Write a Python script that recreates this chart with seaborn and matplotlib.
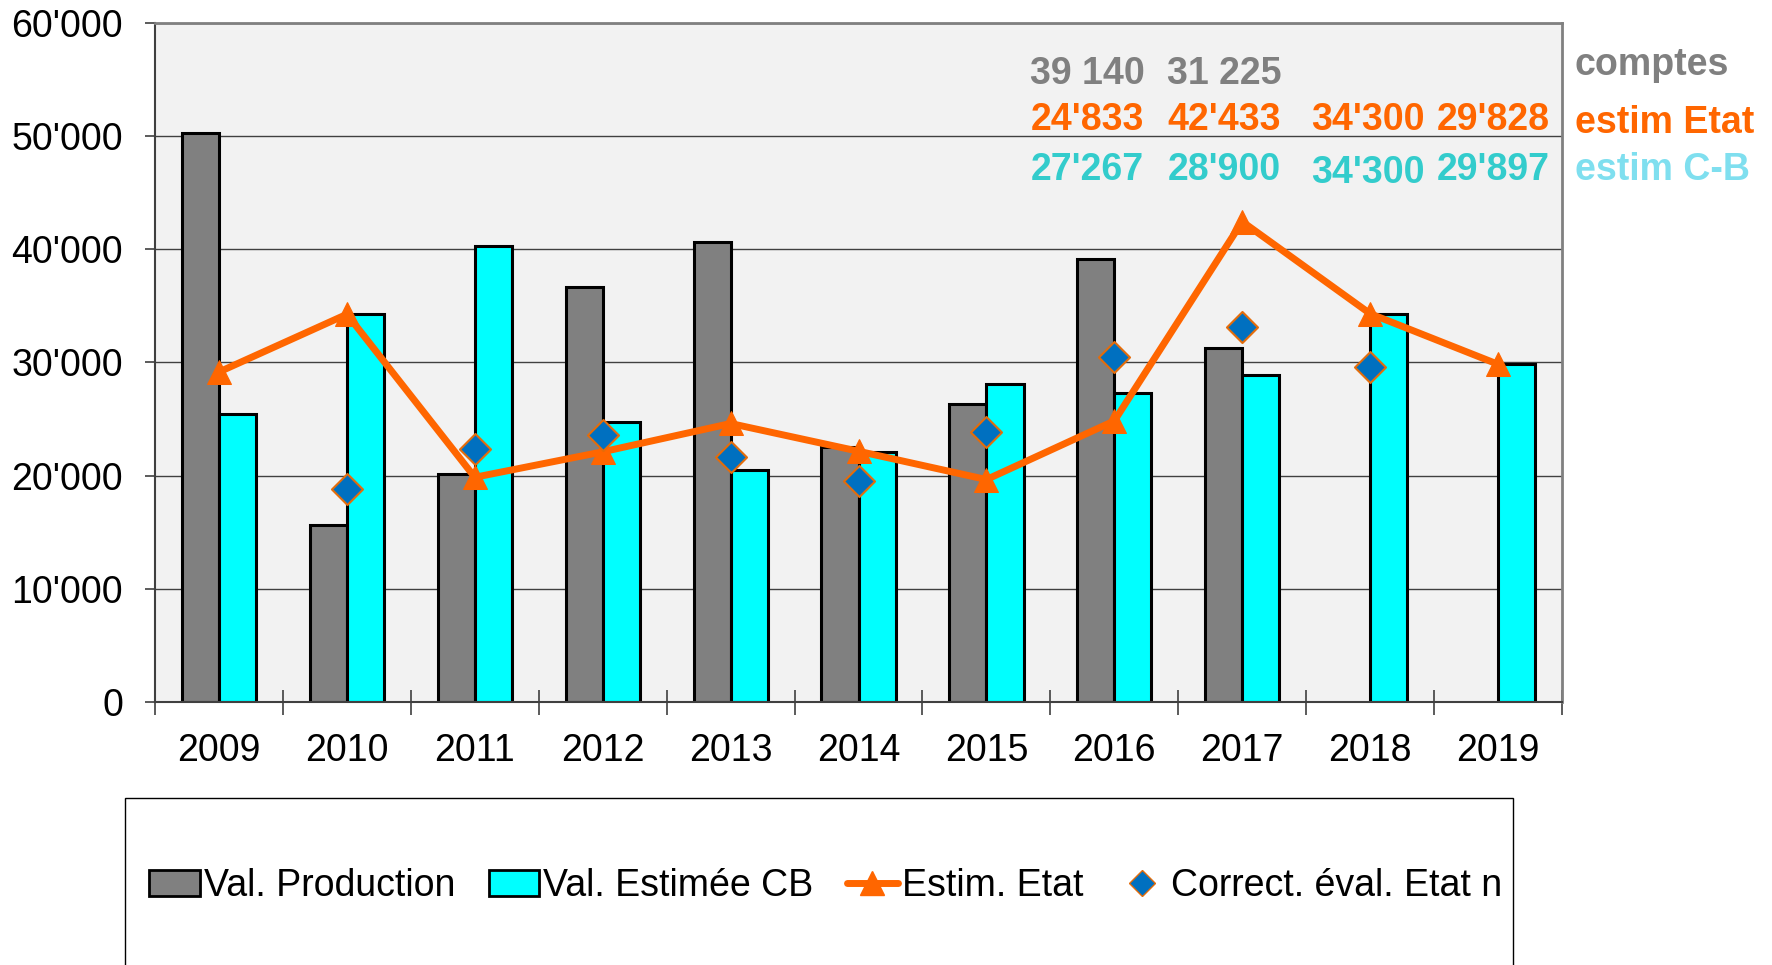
import numpy as np
import pandas as pd
import matplotlib
matplotlib.use('Agg')
import matplotlib.pyplot as plt
import seaborn as sns
from matplotlib.ticker import FuncFormatter
from matplotlib.patches import Rectangle, Patch
from matplotlib.lines import Line2D

years = ['2009', '2010', '2011', '2012', '2013', '2014', '2015', '2016', '2017', '2018', '2019']
val_production = [50300, 15600, 20150, 36650, 40600, 22500, 26300, 39140, 31225, np.nan, np.nan]
val_estimee_cb = [25450, 34250, 40300, 24750, 20450, 22050, 28050, 27267, 28900, 34300, 29897]
estim_etat = [29150, 34250, 19850, 22100, 24600, 22150, 19650, 24833, 42433, 34300, 29828]
correct_eval = [np.nan, 18850, 22350, 23550, 21650, 19500, 23850, 30450, 33150, 29550, np.nan]

# annotations written above the bars (year -> text)
lbl_comptes = {'2016': '39 140', '2017': '31 225'}
lbl_etat = {'2016': "24'833", '2017': "42'433", '2018': "34'300", '2019': "29'828"}
lbl_cb = {'2016': "27'267", '2017': "28'900", '2018': "34'300", '2019': "29'897"}
# the labels are not quite centred on the years in the original
lbl_shift = {'2016': -0.21, '2017': -0.14, '2018': -0.02, '2019': -0.04}

GREY = '#808080'
CYAN = '#00FFFF'
ORANGE = '#FF6600'
BLUE = '#0070C0'

sns.set_style('white')
plt.rcParams['font.family'] = ['Liberation Sans', 'DejaVu Sans']
plt.rcParams['text.color'] = 'black'
plt.rcParams['xtick.labelcolor'] = 'black'
plt.rcParams['ytick.labelcolor'] = 'black'

df = pd.DataFrame({
    'year': years * 2,
    'value': val_production + val_estimee_cb,
    'serie': ['Val. Production'] * len(years) + ['Val. Estimée CB'] * len(years),
})

fig = plt.figure(figsize=(17.72, 9.65), dpi=100)
ax = fig.add_axes([0.0875, 0.2725, 0.794, 0.704])
ax.set_facecolor('#F2F2F2')

sns.barplot(data=df, x='year', y='value', hue='serie', order=years,
            hue_order=['Val. Production', 'Val. Estimée CB'],
            palette=[GREY, CYAN], width=0.58, edgecolor='black', linewidth=2.2,
            saturation=1, errorbar=None, legend=False, ax=ax, zorder=2)

xpos = np.arange(len(years))
sns.lineplot(x=xpos, y=estim_etat, color=ORANGE, linewidth=5, marker='^',
             markersize=17, markeredgecolor=ORANGE, ax=ax, zorder=4)
sns.scatterplot(x=xpos, y=correct_eval, marker='D', s=250, color=BLUE,
                edgecolor='#E46C0A', linewidth=1.5, ax=ax, zorder=5)

ax.set_xlim(-0.5, len(years) - 0.5)
ax.set_ylim(0, 60000)
ax.set_yticks(np.arange(0, 60001, 10000))
ax.yaxis.set_major_formatter(FuncFormatter(lambda v, p: f"{int(v):,}".replace(',', "'")))
ax.yaxis.grid(True, color='#404040', linewidth=1)
ax.set_axisbelow(True)
ax.set_xlabel('')
ax.set_ylabel('')

ax.set_xticks(np.arange(-0.5, len(years), 1), minor=True)
ax.tick_params(axis='x', which='major', bottom=False, length=0, pad=22, labelsize=27,
               labelcolor='black')
ax.tick_params(axis='x', which='minor', bottom=True, length=18, width=1.2,
               direction='inout', color='#404040')
ax.tick_params(axis='y', left=True, length=7, width=1.2, direction='out', color='#404040',
               labelsize=27, pad=16, labelcolor='black')

for side in ['left', 'bottom']:
    ax.spines[side].set_color('#404040')
    ax.spines[side].set_linewidth(1.5)
for side in ['top', 'right']:
    ax.spines[side].set_color(GREY)
    ax.spines[side].set_linewidth(2)

fs = 27
for i, y in enumerate(years):
    x = i + lbl_shift.get(y, 0)
    if y in lbl_comptes:
        ax.text(x, 55450, lbl_comptes[y], color=GREY, fontsize=fs, fontweight='bold',
                ha='center', va='center')
    if y in lbl_etat:
        ax.text(x, 51400, lbl_etat[y], color=ORANGE, fontsize=fs, fontweight='bold',
                ha='center', va='center')
    if y in lbl_cb:
        yy = 46700 if y == '2018' else 47000
        ax.text(x, yy, lbl_cb[y], color='#33CCCC', fontsize=fs, fontweight='bold',
                ha='center', va='center')

ax.text(10.6, 56250, 'comptes', color=GREY, fontsize=fs, fontweight='bold',
        ha='left', va='center', clip_on=False)
ax.text(10.6, 51150, 'estim Etat', color=ORANGE, fontsize=fs, fontweight='bold',
        ha='left', va='center', clip_on=False)
ax.text(10.6, 46950, 'estim C-B', color='#7FDFEF', fontsize=fs, fontweight='bold',
        ha='left', va='center', clip_on=False)

# legend box at the bottom, running off the lower edge
fig.patches.append(Rectangle((125 / 1772, -0.05), (1513 - 125) / 1772, 0.05 + 1 - 798 / 965,
                             transform=fig.transFigure, fill=False, edgecolor='black',
                             linewidth=1))
handles = [
    Patch(facecolor=GREY, edgecolor='black', linewidth=2),
    Patch(facecolor=CYAN, edgecolor='black', linewidth=2),
    Line2D([], [], color=ORANGE, linewidth=5, marker='^', markersize=17),
    Line2D([], [], linestyle='none', marker='D', markersize=13, markerfacecolor=BLUE,
           markeredgecolor='#E46C0A'),
]
labels = ['Val. Production', 'Val. Estimée CB', 'Estim. Etat', 'Correct. éval. Etat n']
fig.legend(handles, labels, loc='center', bbox_to_anchor=(0.466, 0.082), ncol=4,
           frameon=False, fontsize=27, handlelength=1.35, handletextpad=0.1,
           columnspacing=0.9, handleheight=0.7)

fig.savefig('out.png', dpi=100)
